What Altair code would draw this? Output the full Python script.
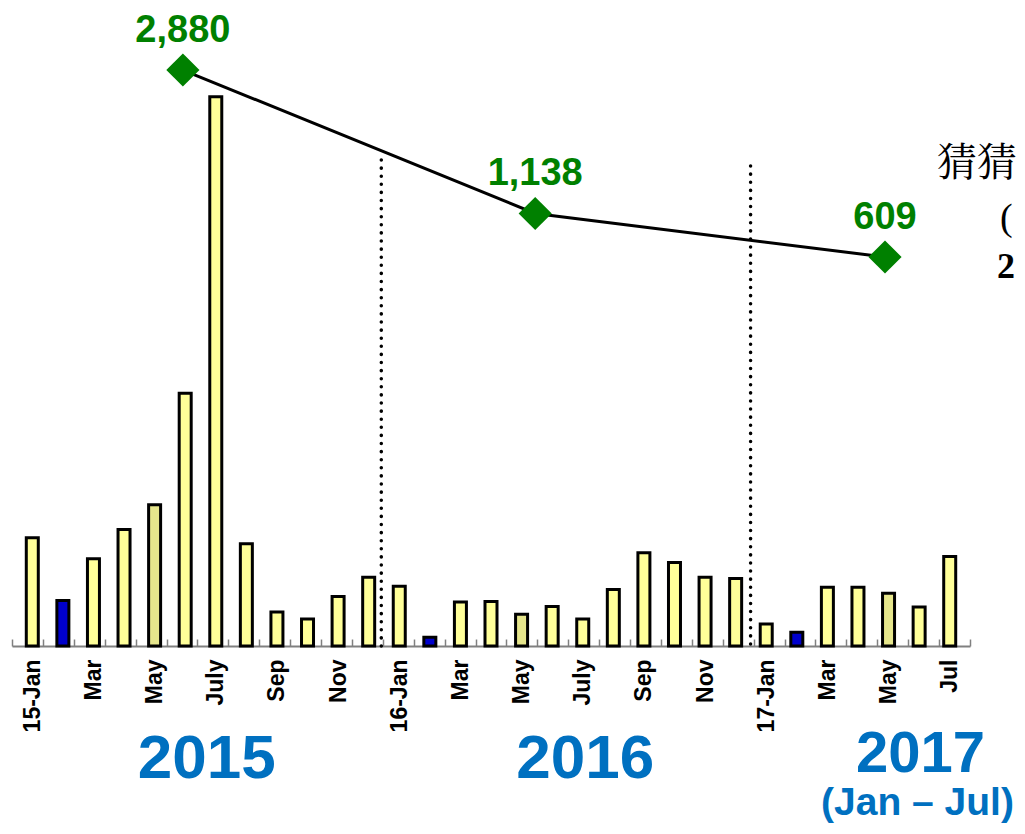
import json
import altair as alt
import pandas as pd

# ---------------- data ----------------
tick_labels = ["15-Jan", "", "Mar", "", "May", "", "July", "", "Sep", "", "Nov", "",
               "16-Jan", "", "Mar", "", "May", "", "July", "", "Sep", "", "Nov", "",
               "17-Jan", "", "Mar", "", "May", "", "Jul"]
monthly = [197, 83, 159, 212, 257, 460, 1000, 186, 62, 49, 90, 125,
           109, 16, 80, 81, 58, 72, 49, 103, 170, 152, 125, 123,
           40, 25, 107, 107, 96, 71, 163]
bar_kind = ["light", "blue", "light", "light", "khaki", "light", "light", "light", "light", "light", "light", "light",
            "light", "blue", "light", "light", "khaki", "light", "light", "light", "light", "light", "light", "light",
            "light", "blue", "light", "light", "khaki", "light", "light"]

annual_totals = [2880, 1138, 609]
annual_labels = ["2,880", "1,138", "609"]
annual_pos = [5.03, 16.43, 27.75]          # month index where each diamond sits

divider_pos = [11.45, 23.4]                # month index of the dotted year separators
divider_top = [885, 874]                   # in monthly-count units

years = ["2015", "2016"]
year_pos = [5.8, 18.05]
year2017 = ["2017"]
year2017_pos = [28.9]
sub2017 = ["(Jan – Jul)"]
sub2017_pos = [28.8]

side_text = ["猜猜", "(", "2"]

# ---------------- frames ----------------
df = pd.DataFrame({"idx": list(range(len(monthly))), "value": monthly, "kind": bar_kind})
ann = pd.DataFrame({"pos": annual_pos, "total": annual_totals, "lab": annual_labels})
div = pd.DataFrame({"pos": divider_pos, "top": divider_top})
yr = pd.DataFrame({"pos": year_pos, "t": years})
yr17 = pd.DataFrame({"pos": year2017_pos, "t": year2017})
sub17 = pd.DataFrame({"pos": sub2017_pos, "t": sub2017})

W, H = 958, 636
xscale = alt.Scale(domain=[-0.5, 30.5], nice=False, zero=False)
bar_y = alt.Scale(domain=[0, 1158], nice=False, zero=False)
line_y = alt.Scale(domain=[-4115, 3609], nice=False, zero=False)

label_expr = json.dumps(tick_labels, ensure_ascii=False) + "[datum.value]"

bars = alt.Chart(df).mark_bar(size=12, stroke="black", strokeWidth=3).encode(
    x=alt.X("idx:Q", scale=xscale,
            axis=alt.Axis(values=list(range(len(monthly))), labelExpr=label_expr, ticks=False, grid=False,
                          domainColor="#808080", domainWidth=2, labelAngle=-90,
                          labelFont="Liberation Sans", labelFontSize=23, labelFontWeight="bold",
                          labelColor="black", labelPadding=13, labelOverlap=False, labelFlush=False,
                          title=None, orient="bottom")),
    y=alt.Y("value:Q", scale=bar_y, axis=None),
    color=alt.Color("kind:N", scale=alt.Scale(domain=["light", "khaki", "blue"],
                                              range=["#FFFF99", "#E6E68C", "#0000CC"]), legend=None),
)

tick_vals = [i - 0.5 for i in range(len(monthly) + 1)]
ticks = alt.Chart(df).mark_tick(opacity=0).encode(
    x=alt.X("idx:Q", scale=xscale,
            axis=alt.Axis(values=tick_vals, labels=False, domain=False, grid=False, ticks=True,
                          tickSize=7, tickColor="#808080", tickWidth=1.5, offset=-7,
                          title=None, orient="bottom")),
)

dividers = alt.Chart(div).mark_rule(color="black", strokeWidth=3.5, strokeDash=[0.1, 8], strokeCap="round").encode(
    x=alt.X("pos:Q", scale=xscale, axis=None),
    y=alt.Y("top:Q", scale=bar_y, axis=None),
    y2=alt.datum(0),
)

line = alt.Chart(ann).mark_line(color="black", strokeWidth=3).encode(
    x=alt.X("pos:Q", scale=xscale, axis=None),
    y=alt.Y("total:Q", scale=line_y, axis=None),
)
points = alt.Chart(ann).mark_point(shape="diamond", filled=True, size=1100, color="#008000", opacity=1).encode(
    x=alt.X("pos:Q", scale=xscale, axis=None),
    y=alt.Y("total:Q", scale=line_y, axis=None),
)
point_labels = alt.Chart(ann).mark_text(dy=-28, fontSize=38, fontWeight="bold", color="#008000",
                                        font="Liberation Sans", baseline="alphabetic").encode(
    x=alt.X("pos:Q", scale=xscale, axis=None),
    y=alt.Y("total:Q", scale=line_y, axis=None),
    text="lab:N",
)

year_text = alt.Chart(yr).mark_text(fontSize=62, fontWeight="bold", color="#0070C0",
                                    font="Liberation Sans", baseline="alphabetic").encode(
    x=alt.X("pos:Q", scale=xscale, axis=None),
    y=alt.value(768),
    text="t:N",
)
year17_text = alt.Chart(yr17).mark_text(fontSize=58, fontWeight="bold", color="#0070C0",
                                        font="Liberation Sans", baseline="alphabetic").encode(
    x=alt.X("pos:Q", scale=xscale, axis=None),
    y=alt.value(762),
    text="t:N",
)
sub17_text = alt.Chart(sub17).mark_text(fontSize=39, fontWeight="bold", color="#0070C0",
                                        font="Liberation Sans", baseline="alphabetic").encode(
    x=alt.X("pos:Q", scale=xscale, axis=None),
    y=alt.value(805),
    text="t:N",
)

side1 = alt.Chart(pd.DataFrame({"t": [side_text[0]]})).mark_text(
    fontSize=40, font="Noto Serif CJK SC, Noto Sans CJK SC", color="black", align="left",
    baseline="alphabetic", fontWeight="normal").encode(x=alt.value(925), y=alt.value(166), text="t:N")
side2 = alt.Chart(pd.DataFrame({"t": [side_text[1]]})).mark_text(
    fontSize=38, font="Liberation Serif", color="black", align="left",
    baseline="alphabetic").encode(x=alt.value(988), y=alt.value(220), text="t:N")
side3 = alt.Chart(pd.DataFrame({"t": [side_text[2]]})).mark_text(
    fontSize=36, font="Liberation Serif", fontWeight="bold", color="black", align="left",
    baseline="alphabetic").encode(x=alt.value(985), y=alt.value(268), text="t:N")

chart = alt.layer(
    bars, ticks, dividers, line, points, point_labels,
    year_text, year17_text, sub17_text, side1, side2, side3,
).resolve_scale(x="independent", y="independent").properties(
    width=W, height=H,
    autosize=alt.AutoSizeParams(type="none"),
    padding={"left": 4, "top": 2, "right": 47, "bottom": 180},
).configure(background="white").configure_view(stroke=None)

chart.save("out.html", embed_options={"renderer": "svg", "actions": False})
